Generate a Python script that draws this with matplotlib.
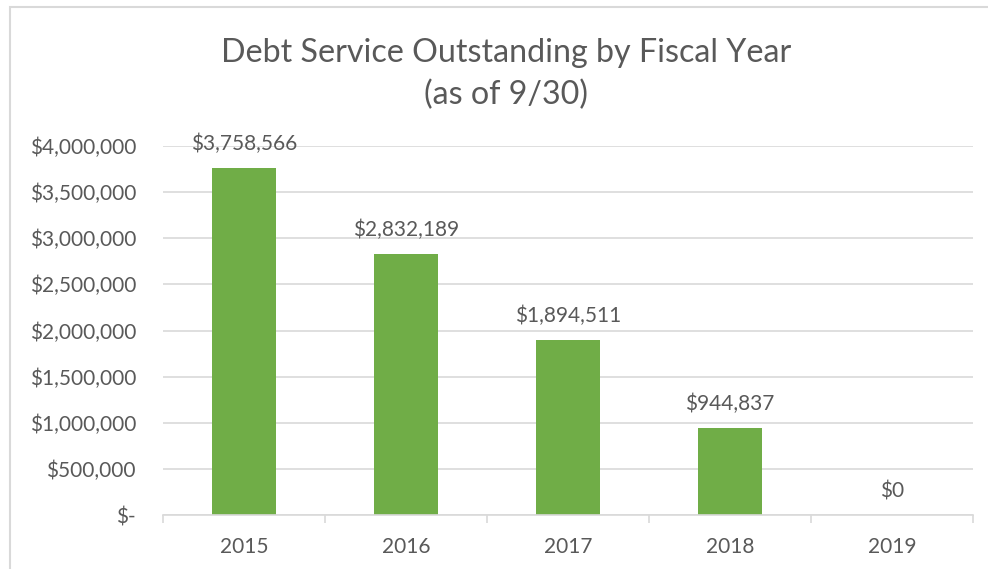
import matplotlib.pyplot as plt
from matplotlib.patches import Rectangle
from matplotlib.ticker import FuncFormatter

plt.rcParams['font.family'] = ['Lato', 'DejaVu Sans']

# data
years = ['2015', '2016', '2017', '2018', '2019']
outstanding = [3758566, 2832189, 1894511, 944837, 0]
yticks = [0, 500000, 1000000, 1500000, 2000000, 2500000, 3000000, 3500000, 4000000]

txt = '#595959'
grid_c = '#d9d9d9'
bar_c = '#70ad47'

fig = plt.figure(figsize=(9.88, 5.69), dpi=100)
# chart border (cut off at right and bottom, like the screenshot)
fig.patches.append(Rectangle((10 / 988, -10 / 569), 1000 / 988, 572 / 569,
                             transform=fig.transFigure, fill=False,
                             edgecolor='#d9d9d9', linewidth=1.5))

ax = fig.add_axes([163 / 988, 54 / 569, 810 / 988, 369 / 569])

x = range(len(years))
ax.bar(x, outstanding, width=0.4, color=bar_c, zorder=2)
ax.set_xlim(-0.5, len(years) - 0.5)
ax.set_ylim(0, 4000000)
ax.set_yticks(yticks)
ax.yaxis.set_major_formatter(FuncFormatter(lambda v, p: '$-' if v == 0 else '${:,.0f}'.format(v)))
ax.set_xticks(list(x))
ax.set_xticklabels(years)

# category separators on the x axis
ax.set_xticks([i - 0.5 for i in range(len(years) + 1)], minor=True)
ax.tick_params(axis='x', which='major', length=0, pad=16, labelsize=15, labelcolor=txt)
ax.tick_params(axis='x', which='minor', length=6, width=1.2, color=grid_c)
ax.tick_params(axis='y', length=0, pad=19.5, labelsize=15, labelcolor=txt)

ax.grid(axis='y', color=grid_c, linewidth=1.2, zorder=0)
for s in ['top', 'right', 'left']:
    ax.spines[s].set_visible(False)
ax.spines['bottom'].set_color(grid_c)
ax.spines['bottom'].set_linewidth(1.2)

for i, v in enumerate(outstanding):
    ax.annotate('${:,.0f}'.format(v), (i, v), xytext=(0, 10), textcoords='offset points',
                ha='center', va='bottom', fontsize=15, color=txt, annotation_clip=False)

fig.text(506 / 988, 1 - 74 / 569, 'Debt Service Outstanding by Fiscal Year\n(as of 9/30)',
         ha='center', va='center', fontsize=23.2, color=txt, linespacing=1.5)

fig.savefig('out.png', dpi=100)
